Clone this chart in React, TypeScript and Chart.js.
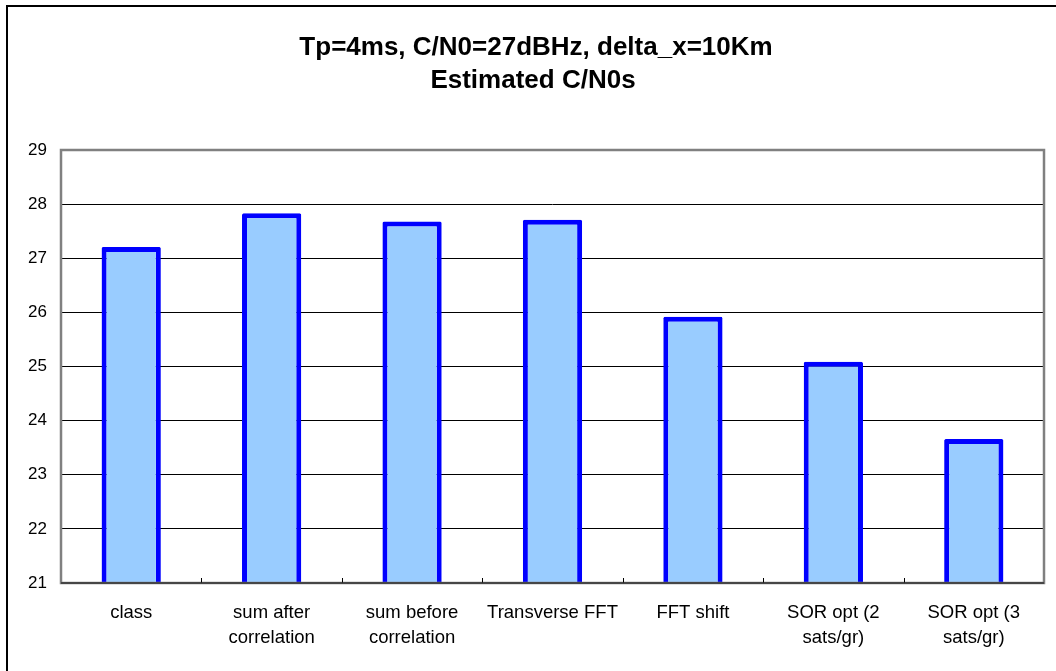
import React, { useEffect, useRef } from "react";
import { Chart, registerables } from "chart.js";

Chart.register(...registerables);

const TITLE_LINES = ["Tp=4ms, C/N0=27dBHz, delta_x=10Km", "Estimated C/N0s"];
const CATEGORIES: string[][] = [
  ["class"],
  ["sum after", "correlation"],
  ["sum before", "correlation"],
  ["Transverse FFT"],
  ["FFT shift"],
  ["SOR opt (2", "sats/gr)"],
  ["SOR opt (3", "sats/gr)"],
];
const VALUES = [27.21, 27.83, 27.68, 27.71, 25.92, 25.09, 23.66];
const Y_MIN = 21;
const Y_MAX = 29;
const Y_STEP = 1;

const FONT = "'Liberation Sans', Arial, sans-serif";

const framePlugin = {
  id: "frameAndTitle",
  beforeDraw(chart: any) {
    const ctx = chart.ctx;
    ctx.save();
    ctx.fillStyle = "#ffffff";
    ctx.fillRect(0, 0, chart.width, chart.height);
    ctx.strokeStyle = "#000000";
    ctx.lineWidth = 2;
    ctx.strokeRect(7, 6, chart.width + 50, chart.height + 50);
    ctx.fillStyle = "#000000";
    ctx.font = `bold 26px ${FONT}`;
    ctx.textAlign = "center";
    ctx.textBaseline = "alphabetic";
    ctx.fillText(TITLE_LINES[0], 536, 55);
    ctx.fillText(TITLE_LINES[1], 533, 88);
    ctx.restore();
  },
  afterDraw(chart: any) {
    const ctx = chart.ctx;
    const a = chart.chartArea;
    const xs = chart.scales.x;
    ctx.save();
    ctx.strokeStyle = "#808080";
    ctx.lineWidth = 2.5;
    ctx.strokeRect(a.left, a.top, a.right - a.left, a.bottom - a.top);
    ctx.strokeStyle = "#000000";
    ctx.lineWidth = 1;
    ctx.beginPath();
    for (let i = 1; i < CATEGORIES.length; i++) {
      const x = Math.round((xs.getPixelForValue(i - 1) + xs.getPixelForValue(i)) / 2) + 0.5;
      ctx.moveTo(x, a.bottom - 5);
      ctx.lineTo(x, a.bottom);
    }
    ctx.stroke();
    ctx.strokeStyle = "#333333";
    ctx.lineWidth = 1.5;
    ctx.beginPath();
    ctx.moveTo(a.left, a.bottom);
    ctx.lineTo(a.right, a.bottom);
    ctx.stroke();
    ctx.restore();
  },
};

export default function App() {
  const ref = useRef<HTMLCanvasElement | null>(null);
  useEffect(() => {
    if (!ref.current) return;
    const chart = new Chart(ref.current, {
      type: "bar",
      data: {
        labels: CATEGORIES,
        datasets: [
          {
            data: VALUES,
            backgroundColor: "#99CCFF",
            borderColor: "#0000FF",
            borderWidth: 5,
            borderSkipped: false,
            borderRadius: 1.5,
            barPercentage: 0.422,
            categoryPercentage: 1,
          },
        ],
      },
      options: {
        responsive: false,
        animation: false,
        layout: { padding: { top: 150, right: 12, left: 0, bottom: 0 } },
        plugins: {
          legend: { display: false },
          title: { display: false },
          tooltip: { enabled: false },
        },
        scales: {
          x: {
            offset: true,
            grid: { display: false, drawTicks: false },
            border: { display: false },
            ticks: {
              color: "#000000",
              font: { family: FONT, size: 18.5, lineHeight: 1.35 },
              padding: 17,
              maxRotation: 0,
              autoSkip: false,
            },
            afterFit(scale: any) {
              scale.height = 88;
            },
          },
          y: {
            min: Y_MIN,
            max: Y_MAX,
            grid: { color: "#000000", lineWidth: 1, drawTicks: false },
            border: { display: false },
            ticks: {
              stepSize: Y_STEP,
              color: "#000000",
              font: { family: FONT, size: 17 },
              padding: 14,
            },
            afterFit(scale: any) {
              scale.width = 61;
            },
          },
        },
      },
      plugins: [framePlugin],
    });
    return () => chart.destroy();
  }, []);
  return (
    <div style={{ position: "fixed", left: 0, top: 0, width: 1056, height: 671 }}>
      <canvas ref={ref} width={1056} height={671} style={{ display: "block" }} />
    </div>
  );
}
